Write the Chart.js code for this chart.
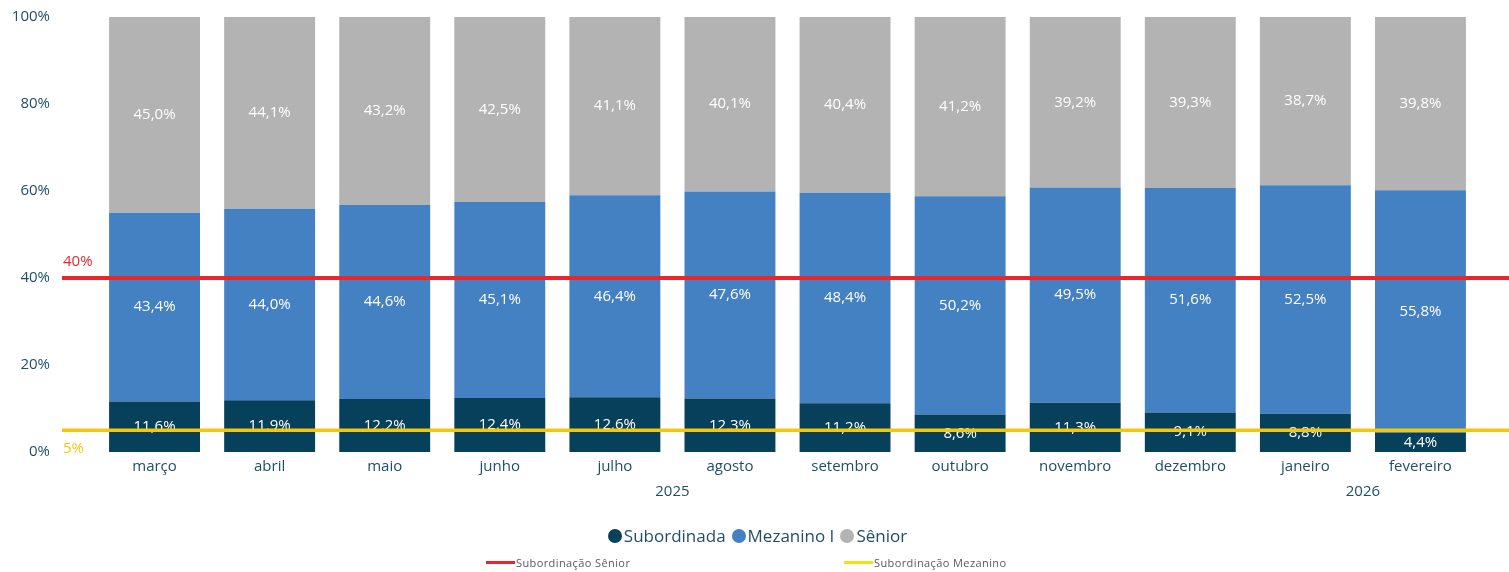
<!DOCTYPE html>
<html>
<head>
<meta charset="utf-8">
<script src="https://cdn.jsdelivr.net/npm/chart.js@4/dist/chart.umd.min.js"></script>
<style>
  html, body { margin: 0; padding: 0; background: #fff; overflow: hidden; }
  #wrap { position: relative; width: 1509px; height: 572px; font-family: "Open Sans", sans-serif; }
  #box { position: absolute; left: 0; top: 0; width: 1509px; height: 572px; }
  #legend1 { position: absolute; top: 524px; left: 0; width: 1515px; text-align: center; font-size: 17px; color: #1f4e66; }
  #legend1 span.item { margin: 0 3px; }
  #legend1 span.dot { display: inline-block; width: 14px; height: 14px; border-radius: 50%; margin-right: 2px; vertical-align: -1px; }
  .leg2 { position: absolute; top: 555px; font-size: 11px; color: #595959; letter-spacing: 0.4px; white-space: nowrap; }
  .leg2 span.ln { display: inline-block; width: 29px; height: 3px; vertical-align: 3px; margin-right: 1px; }
</style>
</head>
<body>
<div id="wrap">
  <div id="box"><canvas id="chart"></canvas></div>
  <div id="legend1"></div>
  <div class="leg2" style="left:486px"><span class="ln" style="background:#e8262b"></span>Subordinação Sênior</div>
  <div class="leg2" style="left:844px"><span class="ln" style="background:#f2e20f"></span>Subordinação Mezanino</div>
</div>
<script>
// dados
const meses = ['março', 'abril', 'maio', 'junho', 'julho', 'agosto', 'setembro', 'outubro', 'novembro', 'dezembro', 'janeiro', 'fevereiro'];
const anoDoMes = ['2025', '2025', '2025', '2025', '2025', '2025', '2025', '2025', '2025', '2025', '2026', '2026'];
const subordinada = [11.6, 11.9, 12.2, 12.4, 12.6, 12.3, 11.2, 8.6, 11.3, 9.1, 8.8, 4.4];
const mezanino = [43.4, 44.0, 44.6, 45.1, 46.4, 47.6, 48.4, 50.2, 49.5, 51.6, 52.5, 55.8];
const senior = [45.0, 44.1, 43.2, 42.5, 41.1, 40.1, 40.4, 41.2, 39.2, 39.3, 38.7, 39.8];
const yTicks = [0, 20, 40, 60, 80, 100];
const limites = [40, 5]; // Subordinação Sênior, Subordinação Mezanino

const corSub = '#07405a';
const corMez = '#4481c3';
const corSen = '#b3b3b3';
const corTexto = '#1f4e66';
const coresLimite = ['#e8262b', '#f2c80f'];

// posição de cada ano = média dos índices dos meses
const anos = [...new Set(anoDoMes)];
const posAnos = anos.map(a => {
    const idx = anoDoMes.map((v, i) => v === a ? i : null).filter(v => v !== null);
    return idx.reduce((s, v) => s + v, 0) / idx.length;
});

function fmt(v) {
    return v.toFixed(1).replace('.', ',') + '%';
}

const rotulos = {
    id: 'rotulos',
    afterDatasetsDraw(chart) {
        const ctx = chart.ctx;
        ctx.save();
        ctx.font = '15px "Open Sans"';
        ctx.fillStyle = '#ffffff';
        ctx.textAlign = 'center';
        ctx.textBaseline = 'middle';
        chart.data.datasets.forEach((ds, i) => {
            const meta = chart.getDatasetMeta(i);
            meta.data.forEach((bar, j) => {
                const y = (bar.y + bar.base) / 2;
                ctx.fillText(fmt(ds.data[j]), bar.x, y);
            });
        });
        // anos abaixo dos meses
        const x = chart.scales.x;
        ctx.fillStyle = corTexto;
        anos.forEach((a, k) => {
            ctx.fillText(a, x.getPixelForValue(posAnos[k]), chart.chartArea.bottom + 40);
        });
        // linhas de subordinação
        const y = chart.scales.y;
        limites.forEach((lim, k) => {
            const py = y.getPixelForValue(lim);
            ctx.strokeStyle = coresLimite[k];
            ctx.lineWidth = k === 0 ? 4 : 3.5;
            ctx.beginPath();
            ctx.moveTo(62, py);
            ctx.lineTo(chart.width, py);
            ctx.stroke();
            ctx.fillStyle = coresLimite[k];
            ctx.textAlign = 'left';
            ctx.fillText(lim + '%', 63, k === 0 ? py - 16 : py + 18);
        });
        ctx.restore();
    }
};

const ctx = document.getElementById('chart').getContext('2d');
const chart = new Chart(ctx, {
    type: 'bar',
    data: {
        labels: meses,
        datasets: [
            { label: 'Subordinada', data: subordinada, backgroundColor: corSub },
            { label: 'Mezanino I', data: mezanino, backgroundColor: corMez },
            { label: 'Sênior', data: senior, backgroundColor: corSen }
        ]
    },
    options: {
        responsive: true,
        maintainAspectRatio: false,
        animation: false,
        barPercentage: 0.79,
        categoryPercentage: 1,
        layout: { padding: { top: 17, right: 31, bottom: 65, left: 0 } },
        plugins: {
            legend: { display: false },
            tooltip: { enabled: false }
        },
        scales: {
            x: {
                stacked: true,
                grid: { display: false, drawTicks: false },
                border: { display: false },
                ticks: { color: corTexto, font: { family: 'Open Sans', size: 15 }, padding: 6, maxRotation: 0 },
                afterFit(s) { s.height = 55; }
            },
            y: {
                stacked: true,
                min: 0,
                max: 100,
                grid: { display: false, drawTicks: false },
                border: { display: false },
                afterBuildTicks(s) { s.ticks = yTicks.map(v => ({ value: v })); },
                ticks: {
                    color: corTexto,
                    font: { family: 'Open Sans', size: 15 },
                    padding: 47,
                    callback: (v) => v + '%'
                },
                afterFit(s) {
                    s.width = 97;
                    s.paddingTop = 0;
                    s.paddingBottom = 0;
                }
            }
        }
    },
    plugins: [rotulos]
});

// legenda superior
const leg = document.getElementById('legend1');
chart.data.datasets.forEach(ds => {
    const it = document.createElement('span');
    it.className = 'item';
    it.innerHTML = '<span class="dot" style="background:' + ds.backgroundColor + '"></span>' + ds.label;
    leg.appendChild(it);
});
</script>
</body>
</html>
